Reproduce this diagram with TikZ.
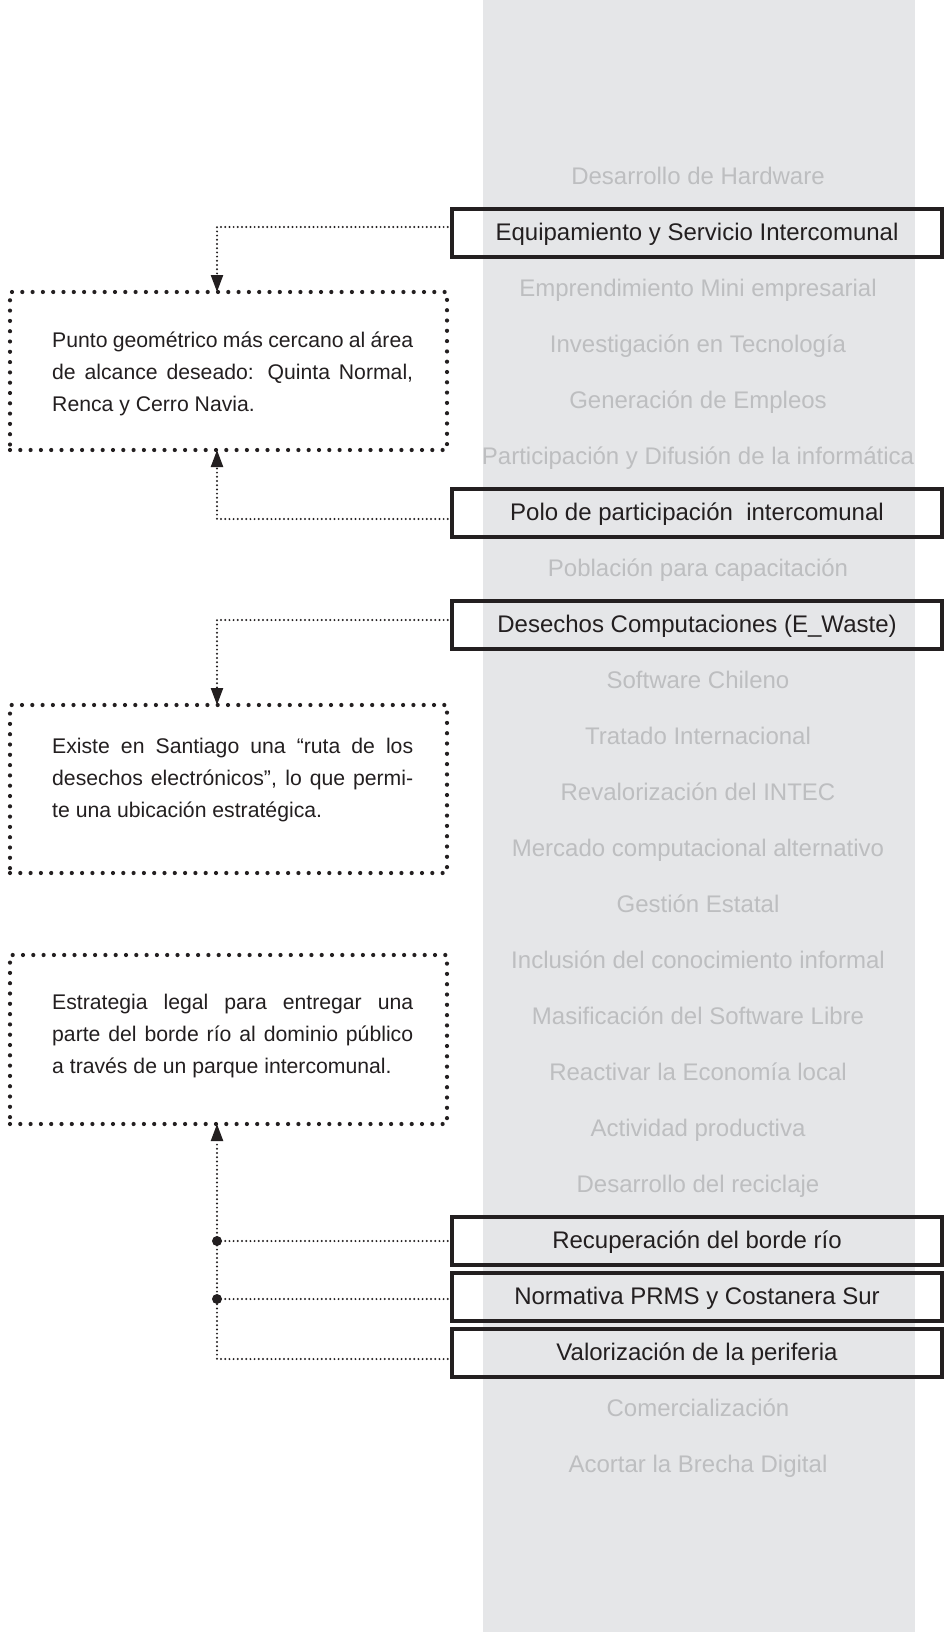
\documentclass[tikz,border=0pt]{standalone}
\usepackage{fontspec}
\setmainfont{Liberation Sans}
\usetikzlibrary{arrows.meta}
\definecolor{bgcol}{HTML}{E5E6E8}
\definecolor{gtext}{HTML}{BDBEC0}
\definecolor{ink}{HTML}{231F20}
\begin{document}
\begin{tikzpicture}[x=1pt,y=-1pt,
  row/.style={inner sep=0pt, text height=17.2pt, text depth=2pt, font=\fontsize{24}{28}\selectfont},
  faded/.style={row, text=gtext},
  framed/.style={row, text=ink, draw=ink, line width=3.3pt, minimum width=490pt, minimum height=48pt, outer sep=0pt},
  notebox/.style={draw=ink, line width=4.2pt, dash pattern=on 0pt off 10.3pt, line cap=round, outer sep=0pt, inner sep=0pt, minimum width=437pt},
  notetext/.style={text=ink, inner sep=0pt, anchor=north west, text width=361pt, align=justify,
    font=\fontsize{21.2}{32}\selectfont},
  conn/.style={draw=ink, line width=2.2pt, dash pattern=on 0pt off 4.2pt, line cap=round},
  tip/.style={-{Triangle[width=12pt,length=17pt]}},
  junction/.style={fill=ink}
]
\fill[white] (0,0) rectangle (946,1632);
\useasboundingbox (0,0) rectangle (946,1632);
\fill[bgcol] (483,0) rectangle (915,1632);

% right column
\node[faded] (r1) at (698,177) {Desarrollo de Hardware};
\node[framed] (eq) at (697,233) {Equipamiento y Servicio Intercomunal};
\node[faded] (r3) at (698,289) {Emprendimiento Mini empresarial};
\node[faded] (r4) at (698,345) {Investigación en Tecnología};
\node[faded] (r5) at (698,401) {Generación de Empleos};
\node[faded] (r6) at (698,457) {Participación y Difusión de la informática};
\node[framed] (polo) at (697,513) {Polo de participación\ \ intercomunal};
\node[faded] (r8) at (698,569) {Población para capacitación};
\node[framed] (des) at (697,625) {Desechos Computaciones (E\_Waste)};
\node[faded] (r10) at (698,681) {Software Chileno};
\node[faded] (r11) at (698,737) {Tratado Internacional};
\node[faded] (r12) at (698,793) {Revalorización del INTEC};
\node[faded] (r13) at (698,849) {Mercado computacional alternativo};
\node[faded] (r14) at (698,905) {Gestión Estatal};
\node[faded] (r15) at (698,961) {Inclusión del conocimiento informal};
\node[faded] (r16) at (698,1017) {Masificación del Software Libre};
\node[faded] (r17) at (698,1073) {Reactivar la Economía local};
\node[faded] (r18) at (698,1129) {Actividad productiva};
\node[faded] (r19) at (698,1185) {Desarrollo del reciclaje};
\node[framed] (rec) at (697,1241) {Recuperación del borde río};
\node[framed] (nor) at (697,1297) {Normativa PRMS y Costanera Sur};
\node[framed] (val) at (697,1353) {Valorización de la periferia};
\node[faded] (r23) at (698,1409) {Comercialización};
\node[faded] (r24) at (698,1465) {Acortar la Brecha Digital};

% left notes
\node[notebox, minimum height=158pt] (na) at (228.5,371) {};
\node[notetext] (ta) at (52,327) {\tolerance=10000\hyphenpenalty=10000\noindent\vrule height 20pt depth 0pt width 0pt Punto geométrico más cercano al área\linebreak de alcance deseado: Quinta Normal,\linebreak Renca y Cerro Navia.};

\node[notebox, minimum height=168pt] (nb) at (228.5,789) {};
\node[notetext] (tb) at (52,733) {\tolerance=10000\hyphenpenalty=10000\noindent\vrule height 20pt depth 0pt width 0pt Existe en Santiago una “ruta de los\linebreak desechos electrónicos”, lo que permi-\linebreak te una ubicación estratégica.};

\node[notebox, minimum height=169pt] (nc) at (228.5,1039.5) {};
\node[notetext] (tc) at (52,989) {\tolerance=10000\hyphenpenalty=10000\noindent\vrule height 20pt depth 0pt width 0pt Estrategia legal para entregar una\linebreak parte del borde río al dominio público\linebreak a través de un parque intercomunal.};

% connector anchor points
\coordinate (vx) at (217,0);
\coordinate (eqp) at ([yshift=6pt]eq.west);
\coordinate (polop) at ([yshift=-6pt]polo.west);
\coordinate (desp) at ([yshift=5pt]des.west);
\coordinate (recp) at (rec.west);
\coordinate (norp) at ([yshift=-2pt]nor.west);
\coordinate (valp) at ([yshift=-6pt]val.west);
\coordinate (j1) at (vx |- recp);
\coordinate (j2) at (vx |- norp);

% connectors
\draw[conn,tip] (eqp) -| (vx |- na.north);
\draw[conn,tip] (polop) -| (vx |- na.south);
\draw[conn,tip] (desp) -| (vx |- nb.north);
\draw[conn,tip] (valp) -| (vx |- nc.south);
\draw[conn] (recp) -- (j1);
\draw[conn] (norp) -- (j2);
\fill[junction] (j1) circle (5pt);
\fill[junction] (j2) circle (5pt);
\end{tikzpicture}
\end{document}
